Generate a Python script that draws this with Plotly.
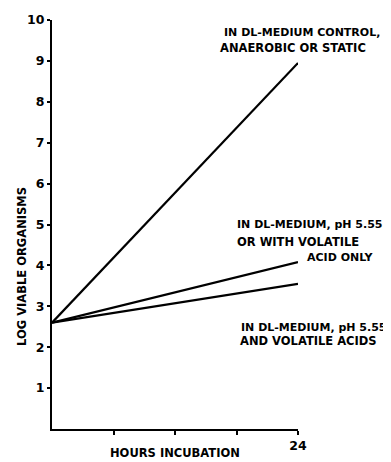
import plotly.graph_objects as go

# Data
hours = [0, 24]
control_anaerobic_static = [2.6, 8.95]
ph_or_volatile_only = [2.6, 4.08]
ph_and_volatile = [2.6, 3.55]

y_tickvals = [1, 2, 3, 4, 5, 6, 7, 8, 9, 10]
y_ticktext = ["1", "2", "3", "4", "5", "6", "7", "8", "9", "10"]
x_tickvals = [6, 12, 18, 24]
x_ticktext = ["", "", "", "24"]

W, H = 391, 462
OFF = 8  # default page body margin
L, R, T, B = 52, 298, 20, 429

def px(x):
    return (x - L) / (R - L)

def py(y):
    return (B - y) / (B - T)

FAM = "DejaVu Sans, Arial, sans-serif"
FONT = dict(family=FAM, size=11, color="black", weight="bold")
FONT_BIG = dict(family=FAM, size=11.5, color="black", weight="bold")

fig = go.Figure()
for ys in [control_anaerobic_static, ph_or_volatile_only, ph_and_volatile]:
    fig.add_trace(go.Scatter(x=hours, y=ys, mode="lines",
                             line=dict(color="black", width=2.2),
                             showlegend=False, hoverinfo="skip"))

labels = [
    ("IN DL-MEDIUM CONTROL,", 222, 33, FONT),
    ("ANAEROBIC OR STATIC", 218, 48, FONT_BIG),
    ("IN DL-MEDIUM, pH 5.55", 235, 225, FONT),
    ("OR WITH VOLATILE", 235, 242, FONT_BIG),
    ("ACID ONLY", 305, 257, FONT),
    ("IN DL-MEDIUM, pH 5.55", 239, 327, FONT),
    ("AND VOLATILE ACIDS", 238, 341, FONT_BIG),
]
anns = []
for text, x, y, f in labels:
    anns.append(dict(text=text, x=px(x), y=py(y), xref="paper", yref="paper",
                     xanchor="left", yanchor="middle", showarrow=False, font=f))
anns.append(dict(text="LOG VIABLE ORGANISMS", x=px(22), y=py(267), xref="paper", yref="paper",
                 xanchor="center", yanchor="middle", showarrow=False, textangle=-90, font=FONT_BIG))
anns.append(dict(text="HOURS INCUBATION", x=px(175), y=py(453), xref="paper", yref="paper",
                 xanchor="center", yanchor="middle", showarrow=False, font=FONT_BIG))

TICKFONT = dict(family=FAM, size=12.5, color="black", weight="bold")
fig.update_layout(
    width=W - OFF, height=H - OFF,
    margin=dict(l=L - OFF, r=W - R, t=T - OFF, b=H - B, autoexpand=False),
    plot_bgcolor="white", paper_bgcolor="white",
    annotations=anns,
    xaxis=dict(range=[0, 24], showgrid=False, zeroline=False, showline=True, automargin=False,
               linecolor="black", linewidth=2, ticks="outside", ticklen=4,
               tickwidth=1.5, tickcolor="black", tickvals=x_tickvals, ticktext=x_ticktext,
               tickfont=TICKFONT),
    yaxis=dict(range=[0, 10], showgrid=False, zeroline=False, showline=True, automargin=False,
               linecolor="black", linewidth=2, ticks="outside", ticklen=3,
               tickwidth=1.5, tickcolor="black", tickvals=y_tickvals, ticktext=y_ticktext,
               tickfont=TICKFONT),
)

fig.write_html("out.html")
